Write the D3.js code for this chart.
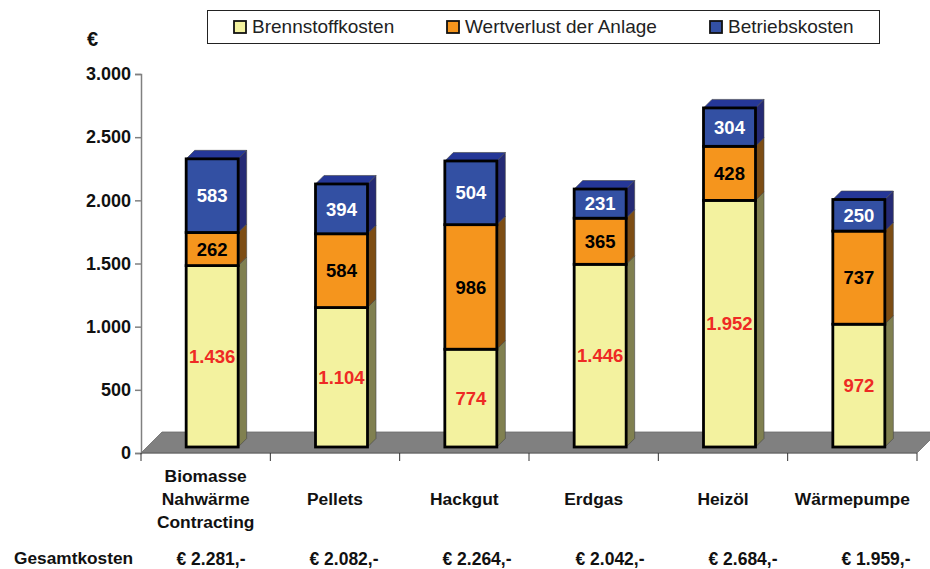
<!DOCTYPE html>
<html>
<head>
<meta charset="utf-8">
<script src="https://cdn.jsdelivr.net/npm/d3@7"></script>
<style>
  html, body { margin: 0; padding: 0; background: #fff; }
  text { font-family: "Liberation Sans", Arial, sans-serif; }
</style>
</head>
<body>
<div id="chart"></div>
<script>
// Data
const categories = ["Biomasse|Nahwärme|Contracting", "Pellets", "Hackgut", "Erdgas", "Heizöl", "Wärmepumpe"];
const seriesNames = ["Brennstoffkosten", "Wertverlust der Anlage", "Betriebskosten"];
const brennstoff = [1436, 1104, 774, 1446, 1952, 972];
const wertverlust = [262, 584, 986, 365, 428, 737];
const betrieb = [583, 394, 504, 231, 304, 250];
const gesamt = ["€ 2.281,-", "€ 2.082,-", "€ 2.264,-", "€ 2.042,-", "€ 2.684,-", "€ 1.959,-"];
const yTicks = [0, 500, 1000, 1500, 2000, 2500, 3000];

// Dimensions
const width = 930;
const height = 569;
const margin = { top: 74, right: 13, bottom: 116, left: 141 };
const depth = 8.5;      // 3D offset of the bars
const floorDepth = 21;  // 3D offset of the floor
const barWidth = 52;
const barShift = 6.5;   // bars stand further back on the floor

// front, top, side colours per series
const colors = [
    { front: "#f3f29f", top: "#f3f29f", side: "#808050", label: "#ee2a24" },
    { front: "#f5951d", top: "#f5951d", side: "#7d4d14", label: "#000" },
    { front: "#3350a3", top: "#253797", side: "#252a75", label: "#fff" }
];

const svg = d3.select("#chart")
    .append("svg")
    .attr("width", width)
    .attr("height", height)
    .style("display", "block");

// Scales
const x = d3.scaleBand()
    .domain(categories)
    .range([margin.left, width - margin.right]);
const y = d3.scaleLinear()
    .domain([0, 3000])
    .range([height - margin.bottom, margin.top]);
const floorY = y(0);

// Stack the rows
const rows = categories.map((c, i) => ({ cat: c, 0: brennstoff[i], 1: wertverlust[i], 2: betrieb[i] }));
const stacked = d3.stack().keys([0, 1, 2])(rows);

// Floor
svg.append("polygon")
    .attr("points", [
        [margin.left, floorY],
        [margin.left + floorDepth, floorY - floorDepth],
        [width - margin.right + floorDepth, floorY - floorDepth],
        [width - margin.right, floorY]
    ].join(" "))
    .attr("fill", "#808080")
    .attr("stroke", "#6a6a6a")
    .attr("stroke-width", 0.8);

// Y axis
const yAxis = svg.append("g")
    .attr("transform", `translate(${margin.left},0)`)
    .call(d3.axisLeft(y)
        .tickValues(yTicks)
        .tickSize(6)
        .tickPadding(4)
        .tickFormat(d => d3.format(",")(d).replace(",", ".")));
yAxis.selectAll("path, line").attr("stroke", "#808080").attr("stroke-width", 1.5);
yAxis.selectAll("text")
    .attr("fill", "#111")
    .style("font-family", "Liberation Sans")
    .style("font-size", "18px")
    .style("font-weight", "bold");

// X axis line and the ticks between categories
svg.append("line")
    .attr("x1", margin.left)
    .attr("x2", width - margin.right)
    .attr("y1", floorY)
    .attr("y2", floorY)
    .attr("stroke", "#666")
    .attr("stroke-width", 1);
svg.selectAll(".xtick")
    .data(categories.map(c => x(c)).concat(width - margin.right))
    .join("line")
    .attr("class", "xtick")
    .attr("x1", d => d)
    .attr("x2", d => d)
    .attr("y1", floorY)
    .attr("y2", floorY + 8)
    .attr("stroke", "#333")
    .attr("stroke-width", 1);

// Bars
const frontX = cat => x(cat) + x.bandwidth() / 2 + barShift - barWidth / 2;
const baseShift = 6; // front face sits above the axis line

stacked.forEach((layer, s) => {
    const g = svg.append("g");
    layer.forEach(d => {
        const x0 = frontX(d.data.cat);
        const x1 = x0 + barWidth;
        const yTop = y(d[1]) - baseShift;
        const yBot = y(d[0]) - baseShift;

        // side face
        g.append("polygon")
            .attr("points", [[x1, yTop], [x1 + depth, yTop - depth], [x1 + depth, yBot - depth], [x1, yBot]].join(" "))
            .attr("fill", colors[s].side)
            .attr("stroke", "#444")
            .attr("stroke-width", 0.6);

        // top face, only the last series shows it
        if (s === stacked.length - 1) {
            g.append("polygon")
                .attr("points", [[x0, yTop], [x0 + depth, yTop - depth], [x1 + depth, yTop - depth], [x1, yTop]].join(" "))
                .attr("fill", colors[s].top)
                .attr("stroke", "#444")
                .attr("stroke-width", 0.6);
        }

        // front face
        g.append("rect")
            .attr("x", x0)
            .attr("y", yTop)
            .attr("width", barWidth)
            .attr("height", yBot - yTop)
            .attr("fill", colors[s].front)
            .attr("stroke", "#000")
            .attr("stroke-width", 2.8);
    });
});

// Value labels go on top of every bar
stacked.forEach((layer, s) => {
    svg.selectAll(".val" + s)
        .data(layer)
        .join("text")
        .attr("class", "val" + s)
        .attr("x", d => frontX(d.data.cat) + barWidth / 2)
        .attr("y", d => (y(d[0]) + y(d[1])) / 2 - baseShift)
        .attr("dy", "0.36em")
        .attr("text-anchor", "middle")
        .attr("fill", colors[s].label)
        .style("font-size", "18.5px")
        .style("font-weight", "bold")
        .text(d => d3.format(",")(d[1] - d[0]).replace(",", "."));
});

// Category labels, centred on the middle line
const lineHeight = 23;
categories.forEach(c => {
    const lines = c.split("|");
    const cx = x(c) + x.bandwidth() / 2;
    lines.forEach((t, i) => {
        svg.append("text")
            .attr("x", cx)
            .attr("y", 505 + (i - (lines.length - 1) / 2) * lineHeight)
            .attr("text-anchor", "middle")
            .attr("fill", "#111")
            .style("font-size", "17.4px")
            .style("font-weight", "bold")
            .text(t);
    });
});

// Gesamtkosten row
const totalX = d3.scalePoint()
    .domain(gesamt)
    .range([211, 876]);
svg.append("text")
    .attr("x", 14)
    .attr("y", 564)
    .attr("fill", "#111")
    .style("font-size", "17.3px")
    .style("font-weight", "bold")
    .text("Gesamtkosten");
svg.selectAll(".total")
    .data(gesamt)
    .join("text")
    .attr("class", "total")
    .attr("x", d => totalX(d))
    .attr("y", 565)
    .attr("text-anchor", "middle")
    .attr("fill", "#111")
    .style("font-size", "17.5px")
    .style("font-weight", "bold")
    .text(d => d);

// Unit
svg.append("text")
    .attr("x", 87)
    .attr("y", 46)
    .attr("fill", "#111")
    .style("font-size", "20px")
    .style("font-weight", "bold")
    .text("€");

// Legend
svg.append("rect")
    .attr("x", 207.5)
    .attr("y", 10.5)
    .attr("width", 672)
    .attr("height", 33)
    .attr("fill", "#fff")
    .attr("stroke", "#222")
    .attr("stroke-width", 1);
const legendX = [234, 447, 710];
seriesNames.forEach((name, i) => {
    svg.append("rect")
        .attr("x", legendX[i])
        .attr("y", 21)
        .attr("width", 12)
        .attr("height", 12)
        .attr("fill", colors[i].front)
        .attr("stroke", "#111")
        .attr("stroke-width", 1.8);
    svg.append("text")
        .attr("x", legendX[i] + 18)
        .attr("y", 33)
        .attr("fill", "#222")
        .style("font-size", "19px")
        .text(name);
});
</script>
</body>
</html>
